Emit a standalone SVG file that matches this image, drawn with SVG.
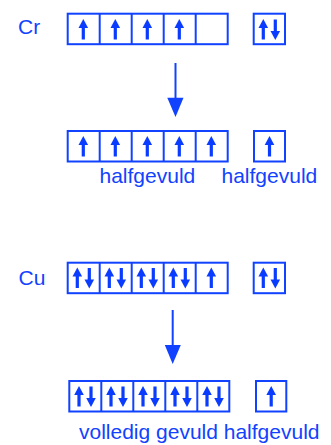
<svg xmlns="http://www.w3.org/2000/svg" xmlns:xlink="http://www.w3.org/1999/xlink" width="331" height="445" viewBox="0 0 331 445">
  <style>
    .box { fill: #ffffff; stroke: #1042ff; stroke-width: 2; }
    .div { stroke: #1042ff; stroke-width: 2; }
    .lbl { font-family: "Liberation Sans", Arial, sans-serif; font-size: 21px; fill: #1042ff; }
    .conn { stroke: #1042ff; stroke-width: 2; fill: none; }
    .head { fill: #1042ff; }
  </style>
  <defs>
    <!-- electron spin arrow, centred on its own origin -->
    <g id="up">
      <polygon points="0,-10.5 4.8,-1.5 -4.8,-1.5" fill="#0a3cff"/>
      <rect x="-1.6" y="-2.5" width="3.2" height="12.5" fill="#0a3cff"/>
    </g>
    <g id="down">
      <use xlink:href="#up" transform="rotate(180)"/>
    </g>
    <!-- five-cell d orbital frame -->
    <g id="d5">
      <rect class="box" x="0" y="0" width="160" height="30.5"/>
      <line class="div" x1="32" y1="0" x2="32" y2="30.5"/>
      <line class="div" x1="64" y1="0" x2="64" y2="30.5"/>
      <line class="div" x1="96" y1="0" x2="96" y2="30.5"/>
      <line class="div" x1="128" y1="0" x2="128" y2="30.5"/>
    </g>
  </defs>

  <!-- Chromium: ground-state guess -->
  <g id="cr-label"><text class="lbl" x="18" y="33.5">Cr</text></g>
  <g id="cr-3d">
    <use xlink:href="#d5" x="67.7" y="13.7"/>
    <use xlink:href="#up" x="83.3" y="29.5"/>
    <use xlink:href="#up" x="115.3" y="29.5"/>
    <use xlink:href="#up" x="147.3" y="29.5"/>
    <use xlink:href="#up" x="179.3" y="29.5"/>
  </g>
  <g id="cr-4s">
    <rect class="box" x="253.7" y="13.7" width="31.3" height="30.5"/>
    <use xlink:href="#up" x="263.3" y="29.5"/>
    <use xlink:href="#down" x="275.3" y="29.5"/>
  </g>

  <!-- Chromium: actual configuration -->
  <g id="cr2-3d">
    <use xlink:href="#d5" x="67.7" y="131"/>
    <use xlink:href="#up" x="83.3" y="146.5"/>
    <use xlink:href="#up" x="115.3" y="146.5"/>
    <use xlink:href="#up" x="147.3" y="146.5"/>
    <use xlink:href="#up" x="179.3" y="146.5"/>
    <use xlink:href="#up" x="211.3" y="146.5"/>
  </g>
  <g id="cr2-4s">
    <rect class="box" x="254" y="131" width="31" height="30.5"/>
    <use xlink:href="#up" x="269.5" y="146.5"/>
  </g>
  <g id="cr2-note1"><text class="lbl" x="99.5" y="183">halfgevuld</text></g>
  <g id="cr2-note2"><text class="lbl" x="221.5" y="183">halfgevuld</text></g>

  <!-- Copper: ground-state guess -->
  <g id="cu-label"><text class="lbl" x="18.5" y="284.5">Cu</text></g>
  <g id="cu-3d">
    <use xlink:href="#d5" x="67.7" y="262.7"/>
    <use xlink:href="#up" x="77.3" y="278"/>
    <use xlink:href="#down" x="89.3" y="278"/>
    <use xlink:href="#up" x="109.3" y="278"/>
    <use xlink:href="#down" x="121.3" y="278"/>
    <use xlink:href="#up" x="141.3" y="278"/>
    <use xlink:href="#down" x="153.3" y="278"/>
    <use xlink:href="#up" x="173.3" y="278"/>
    <use xlink:href="#down" x="185.3" y="278"/>
    <use xlink:href="#up" x="211.3" y="278"/>
  </g>
  <g id="cu-4s">
    <rect class="box" x="253.7" y="262.7" width="31.3" height="30.5"/>
    <use xlink:href="#up" x="263.3" y="278"/>
    <use xlink:href="#down" x="275.3" y="278"/>
  </g>

  <!-- Copper: actual configuration -->
  <g id="cu2-3d">
    <use xlink:href="#d5" x="69.3" y="381"/>
    <use xlink:href="#up" x="79" y="396.5"/>
    <use xlink:href="#down" x="91" y="396.5"/>
    <use xlink:href="#up" x="111" y="396.5"/>
    <use xlink:href="#down" x="123" y="396.5"/>
    <use xlink:href="#up" x="143" y="396.5"/>
    <use xlink:href="#down" x="155" y="396.5"/>
    <use xlink:href="#up" x="175" y="396.5"/>
    <use xlink:href="#down" x="187" y="396.5"/>
    <use xlink:href="#up" x="207" y="396.5"/>
    <use xlink:href="#down" x="219" y="396.5"/>
  </g>
  <g id="cu2-4s">
    <rect class="box" x="256" y="381" width="30.3" height="30.5"/>
    <use xlink:href="#up" x="271.2" y="396.5"/>
  </g>
  <g id="cu2-note"><text class="lbl" x="79" y="438.5">volledig gevuld halfgevuld</text></g>

  <!-- transitions -->
  <g id="connectors">
    <line class="conn" x1="175.5" y1="63" x2="175.5" y2="100"/>
    <polygon class="head" points="167.3,97.7 183.5,97.7 175.5,117"/>
    <line class="conn" x1="172.7" y1="310" x2="172.7" y2="347"/>
    <polygon class="head" points="164.8,345 180.8,345 172.7,364"/>
  </g>
</svg>
